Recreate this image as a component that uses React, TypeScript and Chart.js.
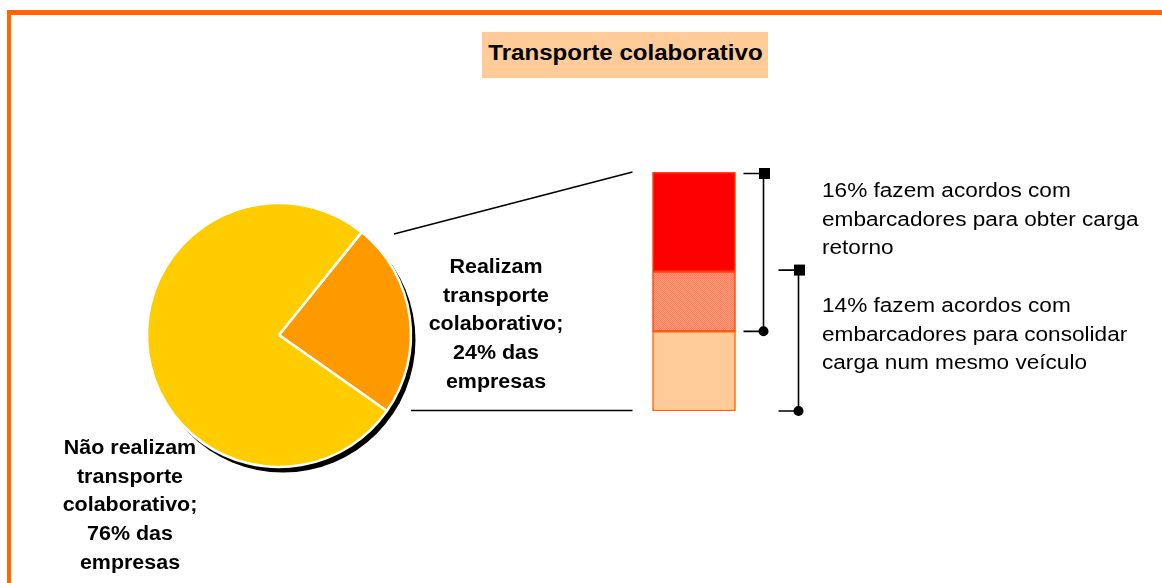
import React, { useEffect, useRef } from 'react';
import { Chart, registerables } from 'chart.js';

Chart.register(...registerables);

// ---------- data ----------
const titleText = 'Transporte colaborativo';
const shareLabels = ['Realizam transporte colaborativo', 'Não realizam transporte colaborativo'];
const shareValues = [24, 76];
const shareColors = ['#FF9900', '#FFCC00'];

const agreementLabels = [
  'fazem acordos com embarcadores para obter carga retorno',
  'fazem acordos com embarcadores para consolidar carga num mesmo veículo',
];
const agreementValues = [16, 14];

// stacked pieces of the 24% bar, bottom to top
const segmentLabels = ['Só consolidam carga', 'Ambos os acordos', 'Só obtêm carga retorno'];
const segmentValues = [8, 6, 10];

// text lines
const realizamLines = ['Realizam', 'transporte', 'colaborativo;', `${shareValues[0]}% das`, 'empresas'];
const naoRealizamLines = ['Não realizam', 'transporte', 'colaborativo;', `${shareValues[1]}% das`, 'empresas'];
const note1Lines = [`${agreementValues[0]}% fazem acordos com`, 'embarcadores para obter carga', 'retorno'];
const note2Lines = [`${agreementValues[1]}% fazem acordos com`, 'embarcadores para consolidar', 'carga num mesmo veículo'];

// ---------- layout constants ----------
const W = 1162;
const H = 583;
const FONT = "'Liberation Sans', Arial, Helvetica, sans-serif";
const PIE_CX = 279;
const PIE_CY = 335;
const PIE_R = 132;
const PIE_BOX = 300;

function makeHatch(): CanvasPattern | string {
  const c = document.createElement('canvas');
  c.width = 2;
  c.height = 2;
  const g = c.getContext('2d');
  if (!g) return '#F99272';
  g.fillStyle = '#FFA07C';
  g.fillRect(0, 0, 2, 2);
  g.fillStyle = '#FA7E5C';
  g.fillRect(0, 0, 1, 1);
  g.fillRect(1, 1, 1, 1);
  const p = g.createPattern(c, 'repeat');
  return p || '#F99272';
}

const shadowPlugin = {
  id: 'pieShadow',
  beforeDatasetsDraw(chart: any) {
    const arc = chart.getDatasetMeta(0).data[0];
    if (!arc) return;
    const ctx = chart.ctx;
    ctx.save();
    ctx.beginPath();
    ctx.arc(arc.x + 4, arc.y + 5, arc.outerRadius + 0.5, 0, Math.PI * 2);
    ctx.fillStyle = '#000000';
    ctx.fill();
    ctx.restore();
  },
};

const annotationPlugin = {
  id: 'barAnnotations',
  afterDatasetsDraw(chart: any) {
    const ctx = chart.ctx;
    const y = chart.scales.y;
    const bar = chart.getDatasetMeta(0).data[0];
    if (!bar) return;
    const barLeft = bar.x - bar.width / 2;
    const barRight = bar.x + bar.width / 2;
    const total = shareValues[0];

    ctx.save();
    ctx.strokeStyle = '#000000';
    ctx.fillStyle = '#000000';
    ctx.lineWidth = 1.6;

    // connectors from the pie slice to the bar
    ctx.beginPath();
    ctx.moveTo(PIE_CX + 115, PIE_CY - 101);
    ctx.lineTo(barLeft - 20, y.getPixelForValue(total));
    ctx.stroke();
    ctx.beginPath();
    ctx.moveTo(PIE_CX + 132, y.getPixelForValue(0) - 0.5);
    ctx.lineTo(barLeft - 20, y.getPixelForValue(0) - 0.5);
    ctx.stroke();

    // brackets
    const ranges = [
      [total, total - agreementValues[0]],
      [agreementValues[1], 0],
    ];
    const offsets = [28, 63];
    ranges.forEach((r, i) => {
      const x = barRight + offsets[i];
      const yTop = y.getPixelForValue(r[0]) + (i === 0 ? 1.5 : -1.5);
      const yBot = y.getPixelForValue(r[1]);
      ctx.beginPath();
      ctx.moveTo(x - 20, yTop);
      ctx.lineTo(x, yTop);
      ctx.moveTo(x, yTop);
      ctx.lineTo(x, yBot);
      ctx.moveTo(x - 20, yBot);
      ctx.lineTo(x, yBot);
      ctx.stroke();
      ctx.fillRect(x - 4.5, yTop - 5.5, 11, 11);
      ctx.beginPath();
      ctx.arc(x, yBot, 5, 0, Math.PI * 2);
      ctx.fill();
    });
    ctx.restore();
  },
};

export default function App() {
  const barRef = useRef<HTMLCanvasElement | null>(null);
  const pieRef = useRef<HTMLCanvasElement | null>(null);

  useEffect(() => {
    if (!barRef.current || !pieRef.current) return;
    const hatch = makeHatch();
    const segColors = ['#FFCC99', hatch, '#FF0000'];
    const segBorders = ['#FF6600', '#FF4400', '#FF4400'];

    const barChart = new Chart(barRef.current, {
      type: 'bar',
      data: {
        labels: [shareLabels[0]],
        datasets: segmentValues.map((v, i) => ({
          label: segmentLabels[i],
          data: [v],
          backgroundColor: segColors[i] as any,
          borderColor: segBorders[i],
          borderWidth: 1.5,
          borderSkipped: false,
          barThickness: 83,
        })),
      },
      options: {
        animation: false,
        responsive: false,
        layout: { padding: { left: 600, right: 374, top: 172, bottom: 172 } },
        scales: {
          x: { display: false, stacked: true },
          y: { display: false, stacked: true, min: 0, max: shareValues[0] },
        },
        plugins: {
          legend: { display: false },
          tooltip: { enabled: false },
        },
      },
      plugins: [annotationPlugin],
    } as any);

    const pieChart = new Chart(pieRef.current, {
      type: 'pie',
      data: {
        labels: shareLabels,
        datasets: [
          {
            data: shareValues,
            backgroundColor: shareColors,
            borderColor: '#FFFFFF',
            borderWidth: 2.5,
          },
        ],
      },
      options: {
        animation: false,
        responsive: false,
        rotation: 38.8,
        radius: PIE_R,
        plugins: {
          legend: { display: false },
          tooltip: { enabled: false },
        },
      },
      plugins: [shadowPlugin],
    } as any);

    return () => {
      barChart.destroy();
      pieChart.destroy();
    };
  }, []);

  const boldLabel: React.CSSProperties = {
    position: 'absolute',
    width: 200,
    textAlign: 'center',
    fontFamily: FONT,
    fontWeight: 'bold',
    fontSize: 19.5,
    lineHeight: '28.7px',
    color: '#000',
    whiteSpace: 'pre',
    transform: 'scaleX(1.1)',
    transformOrigin: '50% 0',
  };
  const noteStyle: React.CSSProperties = {
    position: 'absolute',
    left: 822,
    fontFamily: FONT,
    fontSize: 20,
    lineHeight: '28.6px',
    color: '#000',
    whiteSpace: 'pre',
    transform: 'scaleX(1.13)',
    transformOrigin: '0 0',
  };

  return (
    <div
      style={{
        position: 'absolute',
        left: 0,
        top: 0,
        width: W,
        height: H,
        overflow: 'hidden',
        background: '#FFFFFF',
      }}
    >
      <div
        style={{
          position: 'absolute',
          left: 7,
          top: 10,
          width: W,
          height: H,
          borderTop: '5px solid #FF6600',
          borderLeft: '4px solid #FF6600',
          boxSizing: 'border-box',
        }}
      />
      <canvas
        ref={barRef}
        width={W}
        height={H}
        style={{ position: 'absolute', left: 0, top: 0, width: W, height: H }}
      />
      <canvas
        ref={pieRef}
        width={PIE_BOX}
        height={PIE_BOX}
        style={{
          position: 'absolute',
          left: PIE_CX - PIE_BOX / 2,
          top: PIE_CY - PIE_BOX / 2,
          width: PIE_BOX,
          height: PIE_BOX,
        }}
      />
      <div
        style={{
          position: 'absolute',
          left: 482,
          top: 32,
          width: 286,
          height: 46,
          background: '#FFCC99',
          display: 'flex',
          alignItems: 'center',
          justifyContent: 'center',
          fontFamily: FONT,
          fontWeight: 'bold',
          fontSize: 21.5,
          color: '#000',
          whiteSpace: 'nowrap',
        }}
      >
        <span style={{ marginTop: -3, display: 'inline-block', transform: 'scaleX(1.12)' }}>{titleText}</span>
      </div>
      <div style={{ ...boldLabel, left: 496 - 100, top: 252 }}>{realizamLines.join('\n')}</div>
      <div style={{ ...boldLabel, left: 130 - 100, top: 433 }}>{naoRealizamLines.join('\n')}</div>
      <div style={{ ...noteStyle, top: 176 }}>{note1Lines.join('\n')}</div>
      <div style={{ ...noteStyle, top: 291 }}>{note2Lines.join('\n')}</div>
    </div>
  );
}
